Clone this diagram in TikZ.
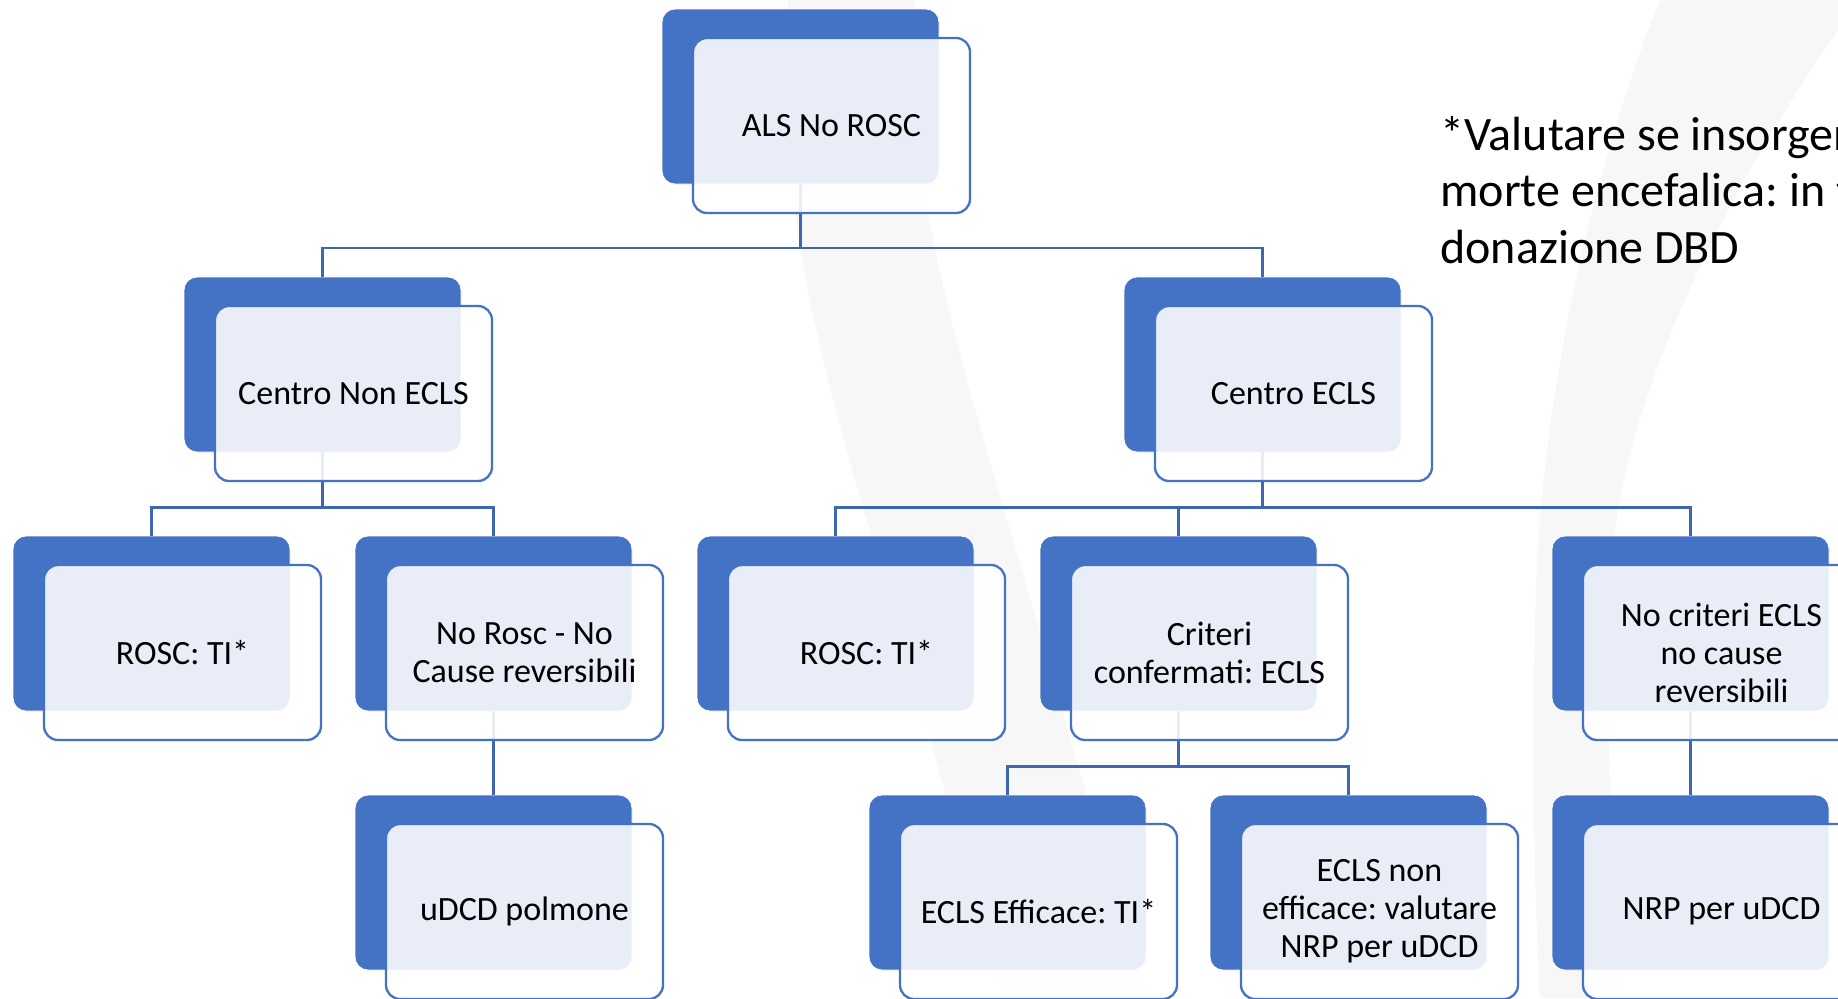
\documentclass[tikz,border=0pt]{standalone}
\usepackage{fontspec}
\setmainfont{Carlito}
\frenchspacing
\definecolor{accent}{HTML}{4472C4}
\definecolor{connc}{HTML}{3F66B0}
\definecolor{wm}{HTML}{F7F7F7}
\tikzset{
  backbox/.style={rectangle, rounded corners=6.5pt, fill=accent, draw=white, line width=0.4pt,
    minimum width=138.5pt, minimum height=87.5pt, inner sep=0pt, outer sep=0pt},
  frontbox/.style={rectangle, rounded corners=7pt, fill=white, fill opacity=0.88, text opacity=1,
    draw=accent, draw opacity=1, line width=1.15pt, minimum width=138.5pt, minimum height=87.5pt,
    inner sep=2pt, outer sep=0pt, align=center, text=black,
    font=\fontsize{17}{19}\selectfont},
  conn/.style={draw=connc, line width=1.3pt},
  notetext/.style={anchor=base west, align=left, inner sep=0pt, text=black,
    font=\fontsize{24}{28.25}\selectfont}
}
\begin{document}
\begin{tikzpicture}[x=0.5pt,y=-0.5pt]
\useasboundingbox (0,0) rectangle (1838,998);
\clip (0,0) rectangle (1838,998);
\fill[white] (0,0) rectangle (1838,998);
% faint watermark
\fill[wm] (788,0) .. controls (775,150) and (800,300) .. (873,540)
  .. controls (920,700) and (960,850) .. (1005,998) -- (1150,998)
  .. controls (1100,850) and (1060,700) .. (1013,540)
  .. controls (950,330) and (900,150) .. (915,0) -- cycle;
\fill[wm] (1660,0) .. controls (1600,150) and (1550,350) .. (1537,560)
  .. controls (1530,750) and (1535,900) .. (1540,998) -- (1620,998)
  .. controls (1610,850) and (1605,700) .. (1613,550)
  .. controls (1625,400) and (1720,200) .. (1838,30) -- (1838,0) -- cycle;
% back boxes
\node[backbox] (bALS)   at (800.5,96.5) {};
\node[backbox] (bCNon)  at (322.5,364.5) {};
\node[backbox] (bCE)    at (1262.5,364.5) {};
\node[backbox] (bR1)    at (151.5,623.5) {};
\node[backbox] (bNoR)   at (493.5,623.5) {};
\node[backbox] (bR2)    at (835.5,623.5) {};
\node[backbox] (bCrit)  at (1178.5,623.5) {};
\node[backbox] (bNoC)   at (1690.5,623.5) {};
\node[backbox] (bUDCD)  at (493.5,882.5) {};
\node[backbox] (bEff)   at (1007.5,882.5) {};
\node[backbox] (bNonE)  at (1348.5,882.5) {};
\node[backbox] (bNRP)   at (1690.5,882.5) {};
% connectors
\draw[conn] (bALS.south) -- ++(0,64) coordinate (j1) -| (bCNon.north);
\draw[conn] (j1) -| (bCE.north);
\draw[conn] (bCNon.south) -- ++(0,55.5) coordinate (j2) -| (bR1.north);
\draw[conn] (j2) -| (bNoR.north);
\draw[conn] (bCE.south) -- ++(0,55.5) coordinate (j3) -| (bR2.north);
\draw[conn] (j3) -| (bCrit.north);
\draw[conn] (j3) -| (bNoC.north);
\draw[conn] (bNoR.south) -- (bUDCD.north);
\draw[conn] (bCrit.south) -- ++(0,55.5) coordinate (j4) -| (bEff.north);
\draw[conn] (j4) -| (bNonE.north);
\draw[conn] (bNoC.south) -- (bNRP.north);
% front boxes
\node[frontbox] (fALS)  at ([shift={(31,29)}]bALS.center) {ALS No ROSC};
\node[frontbox] (fCNon) at ([shift={(31,29)}]bCNon.center) {Centro Non ECLS};
\node[frontbox] (fCE)   at ([shift={(31,29)}]bCE.center) {Centro ECLS};
\node[frontbox] (fR1)   at ([shift={(31,29)}]bR1.center) {ROSC: TI*};
\node[frontbox] (fNoR)  at ([shift={(31,29)}]bNoR.center) {No Rosc - No\\Cause reversibili};
\node[frontbox] (fR2)   at ([shift={(31,29)}]bR2.center) {ROSC: TI*};
\node[frontbox] (fCrit) at ([shift={(31,29)}]bCrit.center) {Criteri\\confermati: ECLS};
\node[frontbox] (fNoC)  at ([shift={(31,29)}]bNoC.center) {No criteri ECLS\\no cause\\reversibili};
\node[frontbox] (fUDCD) at ([shift={(31,29)}]bUDCD.center) {uDCD polmone};
\node[frontbox] (fEff)  at ([shift={(31,29)}]bEff.center) {ECLS Efficace: TI*};
\node[frontbox] (fNonE) at ([shift={(31,29)}]bNonE.center) {ECLS non\\efficace: valutare\\NRP per uDCD};
\node[frontbox] (fNRP)  at ([shift={(31,29)}]bNRP.center) {NRP per uDCD};
% note (last line baseline)
\node[notetext] (note) at (1440,263) {*Valutare se insorgenza\\morte encefalica: in tal\\donazione DBD};
\end{tikzpicture}
\end{document}
